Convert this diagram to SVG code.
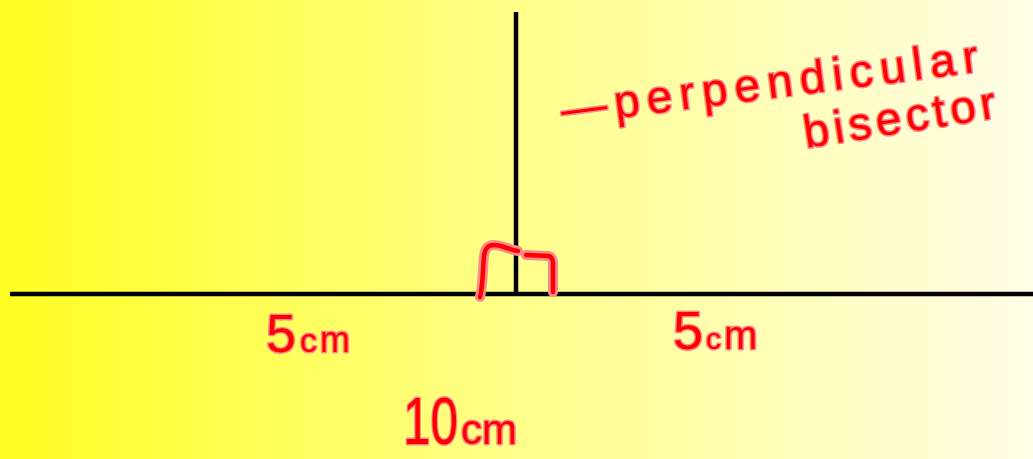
<svg xmlns="http://www.w3.org/2000/svg" width="1033" height="459" viewBox="0 0 1033 459">
<defs>
<linearGradient id="bg" x1="0" y1="0" x2="1" y2="0">
<stop offset="0" stop-color="#ffff22"/>
<stop offset="0.5" stop-color="#ffff8a"/>
<stop offset="1" stop-color="#fffde6"/>
</linearGradient>
</defs>
<style>
.ink{fill:none;stroke:#000;stroke-width:4.5;stroke-linecap:butt}
.halo{fill:none;stroke:#ff8a8a;stroke-width:10;stroke-linecap:round;stroke-linejoin:round}
.red{fill:none;stroke:#ff0000;stroke-width:4.5;stroke-linecap:round;stroke-linejoin:round}
.lbl{font-family:"Liberation Sans",Arial,sans-serif;fill:#ff0000;stroke:#ff8a8a;stroke-width:3;paint-order:stroke;stroke-linejoin:round}
</style>
<rect width="1033" height="459" fill="url(#bg)"/>
<g id="connectors">
<line class="ink" x1="10" y1="294" x2="1033" y2="294"/>
<line class="ink" x1="516" y1="12" x2="516" y2="294"/>
</g>
<g id="right-angle">
<path class="halo" d="M480,297 C483,285 483,265 484,256 C485,248 488,245 494,245 C502,245 510,250 518,251 M526,255 L549,256 C552,257 553,260 553,264 L553,292"/>
<path class="red" d="M480,297 C483,285 483,265 484,256 C485,248 488,245 494,245 C502,245 510,250 518,251 M526,255 L549,256 C552,257 553,260 553,264 L553,292"/>
</g>
<g id="label-perpendicular">
<text class="lbl" x="563" y="125" font-size="46" textLength="420" lengthAdjust="spacing" transform="rotate(-7.3 563 125)">—perpendicular</text>
</g>
<g id="label-bisector">
<text class="lbl" x="806" y="148" font-size="46" textLength="194" lengthAdjust="spacing" transform="rotate(-9 806 148)">bisector</text>
</g>
<g id="label-5cm-left">
<text class="lbl" x="266" y="352"><tspan font-size="54">5</tspan><tspan font-size="34" dx="4">c</tspan><tspan font-size="36" dx="3">m</tspan></text>
</g>
<g id="label-5cm-right">
<text class="lbl" x="673" y="349"><tspan font-size="54">5</tspan><tspan font-size="30" dx="3">c</tspan><tspan font-size="40" dx="3">m</tspan></text>
</g>
<g id="label-10cm">
<text class="lbl" transform="translate(403,444) scale(0.75,1)" font-size="66">10</text>
<text class="lbl" x="461" y="444" font-size="42">cm</text>
</g>
</svg>
